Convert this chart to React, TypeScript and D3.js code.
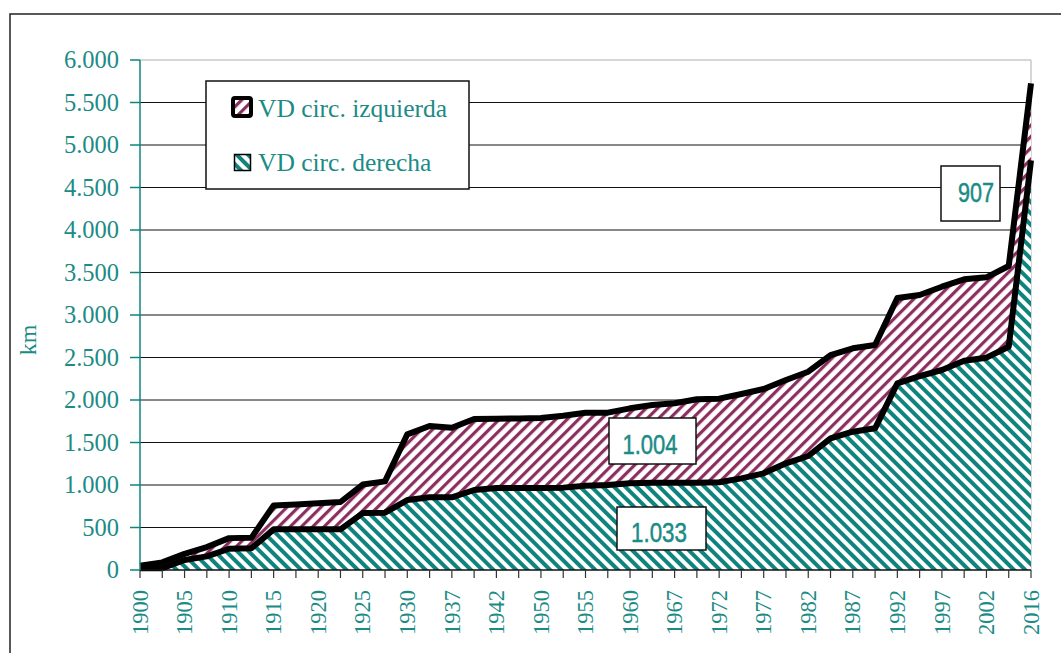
import React from 'react';
import * as d3 from 'd3';

// Tick labels on the category axis (one every second point)
const yearLabels = [
  '1900', '1905', '1910', '1915', '1920', '1925', '1930', '1937', '1942', '1950', '1955',
  '1960', '1967', '1972', '1977', '1982', '1987', '1992', '1997', '2002', '2016',
];

// km of VD circ. derecha, one value per point (41 points)
const derecha = [
  20, 20, 118, 160, 250, 255, 478, 478, 478, 478, 670,
  674, 823, 855, 855, 941, 965, 965, 965, 969, 992,
  1000, 1020, 1027, 1027, 1027, 1033, 1078, 1137, 1255, 1341,
  1549, 1627, 1667, 2196, 2282, 2353, 2462, 2498, 2627, 4818,
];

// km of VD circ. izquierda, stacked on top
const izquierda = [
  30, 70, 72, 110, 125, 123, 282, 292, 307, 322, 335,
  369, 773, 839, 819, 835, 815, 817, 823, 846, 859,
  851, 882, 914, 934, 981, 983, 992, 992, 980, 992,
  980, 981, 980, 1004, 953, 980, 958, 945, 949, 907,
];

const yTicks = [0, 500, 1000, 1500, 2000, 2500, 3000, 3500, 4000, 4500, 5000, 5500, 6000];

const seriesNames = ['VD circ. izquierda', 'VD circ. derecha'];
const annotations = ['907', '1.004', '1.033'];

const TEAL = '#0f847e';
const TEXT_TEAL = '#1b8b86';
const MAROON = '#8c2f60';
const SERIF = '"Liberation Serif", "Times New Roman", serif';
const SANS = '"Liberation Sans", Arial, sans-serif';

const width = 1061;
const height = 653;
const margin = { top: 60, right: 30, bottom: 83, left: 140 };

const fmt = d3.formatLocale({ decimal: ',', thousands: '.', grouping: [3], currency: ['', ''] }).format(',d');

// condensed-looking value label inside a white box
function ValueBox({ x, y, w, h, tx, ty, anchor, len, label }: any) {
  return (
    <g>
      <rect x={x} y={y} width={w} height={h} fill="#fff" stroke="#111" strokeWidth={1.5} />
      <text
        x={tx}
        y={ty}
        textAnchor={anchor}
        fontFamily={SANS}
        fontSize={28}
        fill={TEXT_TEAL}
        stroke={TEXT_TEAL}
        strokeWidth={0.5}
        textLength={len}
        lengthAdjust="spacingAndGlyphs"
      >
        {label}
      </text>
    </g>
  );
}

export default function App() {
  const n = derecha.length;
  const rows = derecha.map((d, i) => ({ i, derecha: d, izquierda: izquierda[i] }));
  const stacked = d3.stack<any>().keys(['derecha', 'izquierda'])(rows);

  const x = d3.scaleLinear().domain([0, n - 1]).range([margin.left, width - margin.right]);
  const y = d3.scaleLinear().domain([0, 6000]).range([height - margin.bottom, margin.top]);

  const area = d3
    .area<any>()
    .x(d => x(d.data.i))
    .y0(d => y(d[0]))
    .y1(d => y(d[1]));
  const line = d3
    .line<any>()
    .x(d => x(d.data.i))
    .y(d => y(d[1]));

  const x0 = x(0);
  const x1 = x(n - 1);
  const yBase = y(0);

  return (
    <svg
      width={width}
      height={height}
      style={{ position: 'absolute', left: 0, top: 0, background: '#fff' }}
    >
      <defs>
        <pattern id="teal" patternUnits="userSpaceOnUse" width={8} height={8} patternTransform="rotate(-45)">
          <rect width={8} height={8} fill="#fff" />
          <rect x={0} y={0} width={4} height={8} fill={TEAL} />
        </pattern>
        <pattern id="maroon" patternUnits="userSpaceOnUse" width={8} height={8} patternTransform="rotate(45)">
          <rect width={8} height={8} fill="#fff" />
          <rect x={0} y={0} width={3.2} height={8} fill={MAROON} />
        </pattern>
      </defs>

      {/* outer frame */}
      <rect x={10} y={14} width={1200} height={800} fill="none" stroke="#222" strokeWidth={1.5} />

      {/* gridlines */}
      {yTicks.slice(1, -1).map(t => (
        <line key={t} x1={x0} x2={x1} y1={y(t)} y2={y(t)} stroke="#111" strokeWidth={1} />
      ))}
      <line x1={x0} x2={x1} y1={y(6000)} y2={y(6000)} stroke="#c8c8c8" strokeWidth={1.5} />
      <line x1={x1} x2={x1} y1={y(6000)} y2={yBase} stroke="#c8c8c8" strokeWidth={1.5} />

      {/* areas */}
      <path d={area(stacked[0]) || ''} fill="url(#teal)" />
      <path d={area(stacked[1]) || ''} fill="url(#maroon)" />
      <path d={line(stacked[0]) || ''} fill="none" stroke="#000" strokeWidth={6} strokeLinejoin="round" />
      <path d={line(stacked[1]) || ''} fill="none" stroke="#000" strokeWidth={6} strokeLinejoin="round" />

      {/* x axis */}
      <line x1={x0} x2={x1} y1={yBase} y2={yBase} stroke="#111" strokeWidth={1.5} />
      {d3.range(n).map(i => (
        <line key={i} x1={x(i)} x2={x(i)} y1={yBase} y2={yBase + 8} stroke="#333" strokeWidth={1.2} />
      ))}
      {yearLabels.map((lab, k) => (
        <text
          key={lab}
          transform={`translate(${x(k * 2)},${yBase + 20}) rotate(-90)`}
          textAnchor="end"
          dy="0.34em"
          fontFamily={SERIF}
          fontSize={22.5}
          fill={TEXT_TEAL}
        >
          {lab}
        </text>
      ))}

      {/* y axis */}
      <line x1={x0} x2={x0} y1={y(6000)} y2={yBase} stroke={TEAL} strokeWidth={1.5} />
      {yTicks.map(t => (
        <g key={t}>
          <line x1={x0 - 10} x2={x0} y1={y(t)} y2={y(t)} stroke={TEAL} strokeWidth={1.5} />
          <text
            x={x0 - 21}
            y={y(t)}
            dy="0.34em"
            textAnchor="end"
            fontFamily={SERIF}
            fontSize={24.5}
            fill={TEXT_TEAL}
          >
            {fmt(t)}
          </text>
        </g>
      ))}
      <text
        transform={`translate(36,${(y(6000) + yBase) / 2 + 25}) rotate(-90)`}
        textAnchor="middle"
        fontFamily={SERIF}
        fontSize={24}
        fill={TEXT_TEAL}
      >
        km
      </text>

      {/* legend */}
      <rect x={206} y={81} width={263} height={108} fill="#fff" stroke="#111" strokeWidth={1.5} />
      <rect x={233} y={98} width={18} height={18} rx={2} fill="url(#maroon)" stroke="#000" strokeWidth={4} />
      <text x={258} y={117} fontFamily={SERIF} fontSize={25.5} fill={TEXT_TEAL}>
        {seriesNames[0]}
      </text>
      <rect x={234.5} y={154.5} width={16} height={16} fill="url(#teal)" stroke="#000" strokeWidth={1.5} />
      <text x={258} y={171} fontFamily={SERIF} fontSize={25.5} fill={TEXT_TEAL}>
        {seriesNames[1]}
      </text>

      {/* value boxes */}
      <ValueBox x={941} y={166} w={59} h={55} tx={994} ty={202} anchor="end" len={36} label={annotations[0]} />
      <ValueBox x={609} y={418} w={87} h={46} tx={650} ty={454} anchor="middle" len={55} label={annotations[1]} />
      <ValueBox x={617} y={507} w={89} h={43} tx={659} ty={542} anchor="middle" len={56} label={annotations[2]} />
    </svg>
  );
}
